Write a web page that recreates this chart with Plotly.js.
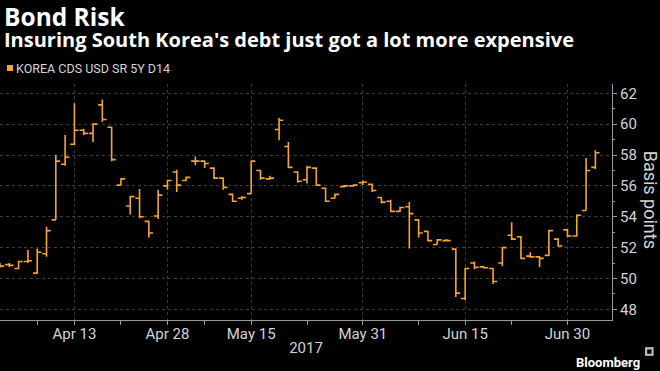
<!DOCTYPE html>
<html>
<head>
<meta charset="utf-8">
<script src="https://cdn.plot.ly/plotly-3.0.1.min.js"></script>
<style>
  html, body { margin: 0; padding: 0; background: #000; }
  #chart { width: 660px; height: 371px; }
</style>
</head>
<body>
<div id="chart"></div>
<script>
// Trading days (Bloomberg daily bars)
const dates = [
  '2017-04-03','2017-04-04','2017-04-05','2017-04-06','2017-04-07',
  '2017-04-10','2017-04-11','2017-04-12','2017-04-13',
  '2017-04-17','2017-04-18','2017-04-19','2017-04-20','2017-04-21',
  '2017-04-24','2017-04-25','2017-04-26','2017-04-27','2017-04-28',
  '2017-05-02','2017-05-03','2017-05-04',
  '2017-05-08','2017-05-09','2017-05-10','2017-05-11','2017-05-12',
  '2017-05-15','2017-05-16','2017-05-17','2017-05-18','2017-05-19',
  '2017-05-22','2017-05-23','2017-05-24','2017-05-25','2017-05-26',
  '2017-05-29','2017-05-30','2017-05-31','2017-06-01','2017-06-02',
  '2017-06-05','2017-06-06','2017-06-07','2017-06-08','2017-06-09',
  '2017-06-12','2017-06-13','2017-06-14','2017-06-15','2017-06-16',
  '2017-06-19','2017-06-20','2017-06-21','2017-06-22','2017-06-23',
  '2017-06-26','2017-06-27','2017-06-28','2017-06-29','2017-06-30',
  '2017-07-03','2017-07-04','2017-07-05'
];
const openVals = [
  50.9, 50.9, 50.65, 51.1, 50.35,
  51.6, 53.8, 57.4, 58.7,
  59.6, 59.4, 61.25, 59.8, 56.05,
  54.7, 55.2, 53.7, 54.05, 56.0,
  56.9, 56.35, 57.6,
  57.6, 57.15, 56.5, 55.45, 55.2,
  55.5, 57.0, 56.45, 59.65, 58.55,
  56.9, 56.4, 57.15, 55.85, 55.2,
  55.95, 56.0, 56.2, 56.1, 55.25,
  55.0, 54.35, 54.65, 53.8, 53.05,
  52.2, 52.45, 51.9, 48.7, 51.0,
  50.75, 50.65, 51.0, 52.8, 52.7,
  51.45, 51.4, 51.5, 52.55, 53.15,
  52.75, 54.4, 57.2
];
const highVals = [
  51.0, 51.0, 51.15, 51.85, 51.95,
  53.35, 58.0, 59.3, 61.35,
  59.7, 60.05, 61.6, 59.85, 56.5,
  55.35, 55.8, 53.75, 55.75, 56.4,
  57.05, 56.6, 57.9,
  57.65, 57.2, 56.55, 55.5, 55.35,
  57.65, 57.05, 56.65, 60.4, 58.85,
  56.95, 57.3, 57.2, 55.9, 55.5,
  56.05, 56.1, 56.35, 56.15, 55.3,
  55.1, 54.65, 54.95, 53.85, 53.1,
  52.55, 52.55, 51.95, 50.7, 51.1,
  50.8, 50.7, 52.05, 53.65, 52.75,
  51.7, 51.45, 53.15, 52.6, 53.2,
  54.15, 57.8, 58.3
];
const lowVals = [
  50.7, 50.75, 50.6, 51.0, 50.3,
  51.4, 53.8, 57.3, 58.65,
  59.3, 58.85, 60.15, 57.6, 56.05,
  54.15, 53.9, 52.65, 53.85, 55.75,
  55.6, 56.3, 57.35,
  57.15, 56.45, 55.75, 54.95, 55.1,
  55.5, 56.4, 56.4, 58.95, 57.15,
  56.2, 56.15, 56.0, 54.95, 55.2,
  55.9, 55.95, 56.05, 55.6, 54.85,
  54.3, 54.3, 51.95, 52.65, 52.4,
  52.2, 52.4, 48.8, 48.6, 50.6,
  50.65, 49.65, 50.8, 52.5, 51.25,
  51.35, 50.75, 51.45, 52.05, 52.65,
  52.7, 54.4, 57.1
];
const closeVals = [
  50.8, 50.85, 51.1, 51.15, 51.7,
  53.1, 57.6, 57.85, 59.6,
  59.4, 60.0, 60.3, 57.7, 56.45,
  55.3, 54.0, 52.95, 55.4, 56.35,
  56.05, 56.55, 57.6,
  57.45, 56.5, 55.9, 55.0, 55.25,
  57.6, 56.5, 56.5, 60.25, 57.2,
  56.3, 57.2, 56.05, 55.0, 55.45,
  56.0, 56.05, 56.25, 55.7, 54.95,
  54.35, 54.6, 54.2, 52.95, 52.45,
  52.5, 52.45, 49.05, 50.65, 50.72,
  50.7, 49.8, 52.0, 52.55, 51.3,
  51.4, 51.3, 53.1, 52.1, 52.75,
  54.1, 57.0, 58.15
];
const holidays = ['2017-04-14', '2017-05-01', '2017-05-05'];
const majorTickDates = ['2017-04-13','2017-04-28','2017-05-15','2017-05-31','2017-06-15','2017-06-30'];
const majorTickLabels = ['Apr 13','Apr 28','May 15','May 31','Jun 15','Jun 30'];
const minorTickDates = ['2017-04-07','2017-04-21','2017-05-08','2017-05-23','2017-06-08','2017-06-22'];
const yTicks = [48, 50, 52, 54, 56, 58, 60, 62];

const ORANGE = '#f6a532';
const TXT = '#d4d4d4';
const FONT = 'Liberation Sans Narrow, Roboto, Arial, sans-serif';
const HEAD = 'Open Sans, sans-serif';

const trace = {
  type: 'ohlc',
  x: dates,
  open: openVals, high: highVals, low: lowVals, close: closeVals,
  increasing: { line: { color: ORANGE, width: 1.6 } },
  decreasing: { line: { color: ORANGE, width: 1.6 } },
  tickwidth: 0.45,
  showlegend: false,
  hoverinfo: 'skip'
};

const layout = {
  width: 660, height: 371,
  paper_bgcolor: '#000', plot_bgcolor: '#000',
  margin: { l: 0, r: 48, t: 84, b: 51 },
  font: { family: FONT, color: TXT, size: 13 },
  xaxis: {
    type: 'date',
    range: ['2017-04-03', '2017-07-06 18:50'],
    rangebreaks: [ { bounds: ['sat', 'mon'] }, { values: holidays } ],
    rangeslider: { visible: false },
    tickmode: 'array', tickvals: majorTickDates, ticktext: majorTickLabels,
    ticks: 'outside', ticklen: 4, tickcolor: '#9a9a9a', tickwidth: 1,
    ticklabelstandoff: -4,
    showline: true, linecolor: '#9a9a9a', linewidth: 1,
    showgrid: true, gridcolor: '#3c3c3c', griddash: 'dot', gridwidth: 1,
    minor: { tickmode: 'array', tickvals: minorTickDates, ticks: 'outside', ticklen: 4, tickcolor: '#9a9a9a', showgrid: false },
    tickfont: { family: FONT, size: 15, color: TXT },
    title: { text: '2017', font: { family: FONT, size: 15, color: TXT }, standoff: 0 },
    fixedrange: true, zeroline: false
  },
  yaxis: {
    side: 'right',
    range: [47.31, 62.6],
    tickmode: 'array', tickvals: yTicks,
    ticks: 'outside', ticklen: 4, tickcolor: '#9a9a9a',
    showline: true, linecolor: '#9a9a9a', linewidth: 1,
    showgrid: true, gridcolor: '#3c3c3c', griddash: 'dot', gridwidth: 1,
    minor: { dtick: 1, ticks: 'outside', ticklen: 2, tickcolor: '#9a9a9a', showgrid: false },
    tickfont: { family: FONT, size: 15, color: TXT },
    zeroline: false, fixedrange: true
  },
  shapes: [
    { type: 'rect', xref: 'paper', yref: 'paper', x0: 0.0114, x1: 0.0212, y0: 1.055, y1: 1.0805,
      fillcolor: ORANGE, line: { width: 0 } },
    { type: 'rect', xref: 'paper', yref: 'paper', x0: 1.054, x1: 1.068, y0: -0.152, y1: -0.115,
      fillcolor: '#bdbdbd', line: { width: 0 } },
    { type: 'rect', xref: 'paper', yref: 'paper', x0: 1.0575, x1: 1.0645, y0: -0.143, y1: -0.125,
      fillcolor: '#000', line: { width: 0 } }
  ],
  annotations: [
    { text: "<b><span style='font-size:24.5px'>Bond Risk</span></b><br><b><span style='font-size:20px'>Insuring South Korea's debt just got a lot more expensive</span></b>",
      xref: 'paper', yref: 'paper', x: 0.003, y: 1.245, xanchor: 'left', yanchor: 'middle', align: 'left',
      showarrow: false, font: { family: HEAD, size: 16.5, color: '#ffffff' } },
    { text: 'KOREA CDS USD SR 5Y D14',
      xref: 'paper', yref: 'paper', x: 0.0235, y: 1.066, xanchor: 'left', yanchor: 'middle',
      showarrow: false, font: { family: FONT, size: 12.5, color: TXT } },
    { text: 'Basis points', textangle: 90,
      xref: 'paper', yref: 'paper', x: 1.062, y: 0.51, xanchor: 'center', yanchor: 'middle',
      showarrow: false, font: { family: FONT, size: 18, color: TXT } },
    { text: '<b>Bloomberg</b>',
      xref: 'paper', yref: 'paper', x: 1.049, y: -0.178, xanchor: 'right', yanchor: 'middle',
      showarrow: false, font: { family: FONT, size: 13, color: '#ffffff' } }
  ]
};

Plotly.newPlot('chart', [trace], layout, { displayModeBar: false, staticPlot: true });
</script>
</body>
</html>
